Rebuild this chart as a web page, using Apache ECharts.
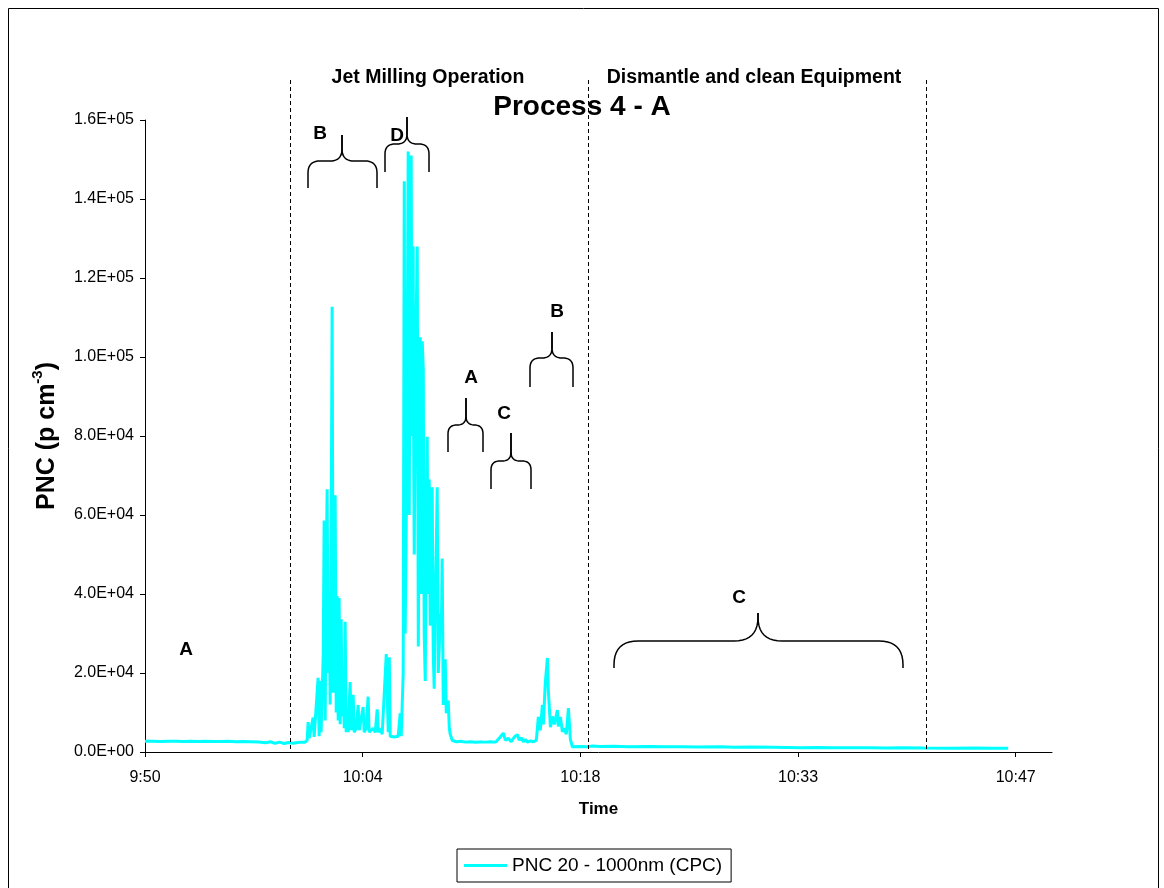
<!DOCTYPE html>
<html><head><meta charset="utf-8">
<script src="https://cdn.jsdelivr.net/npm/echarts@6/dist/echarts.min.js"></script>
<style>html,body{margin:0;padding:0;background:#fff}#c{width:1164px;height:888px}</style>
</head><body><div id="c"></div>
<script>
// x values: minutes after the axis origin (9:50:06)
const AXIS_START_MIN = 590.1;
const timeMin = [
0,0.5,1,1.5,2,2.5,3,3.5,4,4.5,5,5.5,6,6.5,7,7.5,8,8.3,8.6,8.9,9.2,9.5,9.8,10.1,10.4,
10.59,10.73,10.79,10.86,10.99,11.12,11.19,11.32,11.45,11.52,11.59,11.65,11.79,11.85,11.92,11.98,
12.05,12.12,12.18,12.25,12.32,12.38,12.45,12.51,12.58,12.65,12.71,12.78,12.84,12.91,12.98,
13.04,13.11,13.18,13.24,13.31,13.37,13.44,13.57,13.64,13.77,13.84,13.97,14.10,14.17,14.30,
14.43,14.50,14.63,14.76,14.83,14.96,15.10,15.23,15.36,15.43,15.56,15.69,15.82,15.96,16.09,
16.16,16.22,16.35,16.49,16.62,16.75,16.88,16.95,17.02,17.08,17.15,17.21,17.28,17.35,17.41,17.45,
17.48,17.55,17.61,17.65,17.68,17.74,17.78,17.81,17.88,17.94,18.01,18.08,18.14,18.21,18.24,18.27,18.34,18.41,18.44,
18.47,18.54,18.60,18.67,18.70,18.74,18.80,18.84,18.87,18.94,19.00,19.04,19.07,19.13,19.20,19.27,19.33,19.40,19.47,
19.53,19.60,19.66,19.73,19.80,19.86,19.93,20.00,20.06,20.13,20.19,20.33,20.6,20.86,21.2,21.52,
21.85,22.18,22.5,22.84,23.2,23.50,23.70,23.84,24.03,24.23,24.43,24.63,24.76,24.89,25.03,
25.16,25.29,25.49,25.69,25.89,26.02,26.15,26.29,26.35,26.48,26.62,26.68,26.82,26.95,27.08,
27.28,27.34,27.48,27.61,27.74,27.87,28.01,28.14,28.27,28.8,29.2,29.33,29.6,30.1,31,32,33.4,
34.5,35.5,36.7,38,39,40.1,41.5,43.4,44.5,45.5,46.7,48,49,50,51.5,53.3,55,56,57.1
];
const pnc = [
2700,2750,2650,2700,2720,2680,2700,2650,2700,2680,2650,2700,2620,2650,2600,2550,2350,2600,2200,2500,2150,2400,2200,2400,2500,
2500,3000,7600,3500,4000,8700,3800,3500,18800,4000,18000,5000,24600,58600,8000,45000,
66500,20000,40500,12000,60000,112700,15000,30000,65000,10000,39500,8000,39000,7000,33600,
9000,21400,6000,33000,5000,8700,5000,17700,5500,14500,5000,6000,11900,5500,5000,
11400,5000,6000,14000,5000,5500,6000,5000,10800,5000,6000,4500,4000,24800,5000,
24000,4000,3500,3800,3400,4000,9800,4000,3500,20000,144500,30000,57000,100000,152000,110000,
60000,130000,151000,95000,80000,128000,70000,50000,90000,110000,128000,26700,70000,105000,62000,40000,104000,96800,55000,
30000,18000,60000,79800,52000,40000,69000,45000,32000,45000,67000,38000,25000,16000,40000,52000,67000,20000,27000,
35000,30000,49000,11900,18000,23500,9800,12000,13000,6000,4500,2900,2600,2700,2500,2600,
2450,2550,2500,2600,2500,3800,4800,3000,3500,2600,3800,4400,3000,3600,2600,
3200,2500,2800,2600,3000,8900,5500,11900,7000,17500,23800,15700,6300,9000,7000,
10600,6500,8900,5100,6000,4500,11100,3200,1300,1400,1300,1000,1500,1400,1450,1350,1400,
1300,1350,1250,1300,1200,1250,1200,1100,1150,1050,1100,1050,1000,1050,1000,950,1000,950,950
];
const xTickValues = [0, 14.4, 28.8, 43.2, 57.6];
const phaseBoundaries = [9.6, 29.3, 51.64];
const phaseNames = ['Jet Milling Operation', 'Dismantle and clean Equipment'];
const seriesName = 'PNC 20 - 1000nm (CPC)';

const FONT = 'Liberation Sans, Arial, sans-serif';
const chart = echarts.init(document.getElementById('c'));

function fmtTime(v) {
  const tot = AXIS_START_MIN + v;
  const h = Math.floor(tot / 60), m = Math.floor(tot % 60);
  return h + ':' + String(m).padStart(2, '0');
}
function fmtExp(v) {
  if (v === 0) return '0.0E+00';
  const e = Math.floor(Math.log10(v) + 1e-9);
  const m = v / Math.pow(10, e);
  return m.toFixed(1) + 'E+' + String(e).padStart(2, '0');
}

chart.setOption({
  animation: false,
  backgroundColor: '#fff',
  title: {
    text: 'Process 4 - A', left: 'center', top: 88,
    textStyle: { fontFamily: FONT, fontSize: 28, fontWeight: 'bold', color: '#000' }
  },
  grid: { left: 145, top: 120, width: 907, height: 632, containLabel: false },
  xAxis: {
    type: 'value', min: 0, max: 60, interval: 14.4,
    name: 'Time', nameLocation: 'middle', nameGap: 49,
    nameTextStyle: { fontFamily: FONT, fontSize: 17, fontWeight: 'bold', color: '#000' },
    axisLine: { show: true, onZero: false, lineStyle: { color: '#000', width: 1 } },
    axisTick: { show: true, length: 5, lineStyle: { color: '#000' }, customValues: xTickValues },
    axisLabel: { fontFamily: FONT, fontSize: 16, color: '#000', margin: 18, formatter: fmtTime, customValues: xTickValues },
    splitLine: { show: false }
  },
  yAxis: {
    type: 'value', min: 0, max: 160000, interval: 20000,
    name: '{a|PNC (p cm}{s|-3}{a|)}', nameLocation: 'middle', nameGap: 85, nameRotate: 90,
    nameTextStyle: {
      rich: {
        a: { fontFamily: FONT, fontSize: 25, fontWeight: 'bold', color: '#000', lineHeight: 30, verticalAlign: 'bottom' },
        s: { fontFamily: FONT, fontSize: 15, fontWeight: 'bold', color: '#000', lineHeight: 30, verticalAlign: 'top' }
      }
    },
    axisLine: { show: true, lineStyle: { color: '#000', width: 1 } },
    axisTick: { show: true, length: 5, lineStyle: { color: '#000' } },
    axisLabel: { fontFamily: FONT, fontSize: 16, color: '#000', margin: 11, formatter: fmtExp },
    splitLine: { show: false }
  },
  legend: {
    left: 457, top: 849, padding: [7, 9, 7, 7],
    borderColor: '#000', borderWidth: 1, backgroundColor: '#fff',
    icon: 'rect', itemWidth: 43, itemHeight: 3, itemGap: 5,
    textStyle: { fontFamily: FONT, fontSize: 19, color: '#000' },
    data: [{ name: seriesName, itemStyle: { color: '#00FFFF' } }]
  },
  series: [{
    name: seriesName, type: 'line', showSymbol: false, symbol: 'none',
    lineStyle: { color: '#00FFFF', width: 3 }, itemStyle: { color: '#00FFFF' },
    data: timeMin.map((t, i) => [t, pnc[i]])
  }]
});

// annotations (curly braces drawn as polylines)
function quad(p0, c, p1, n) {
  const pts = [];
  for (let i = 1; i <= n; i++) {
    const s = i / n, u = 1 - s;
    pts.push([u * u * p0[0] + 2 * u * s * c[0] + s * s * p1[0], u * u * p0[1] + 2 * u * s * c[1] + s * s * p1[1]]);
  }
  return pts;
}
function halfBrace(xE, xT, yT, yM, yE, r) {
  const dir = xT > xE ? 1 : -1;
  let pts = [[xE, yE], [xE, yM + r]];
  pts = pts.concat(quad([xE, yM + r], [xE, yM], [xE + dir * r, yM], 10));
  pts.push([xT - dir * r, yM]);
  pts = pts.concat(quad([xT - dir * r, yM], [xT, yM], [xT, yM - r], 10));
  pts.push([xT, yT]);
  return { type: 'polyline', shape: { points: pts }, style: { fill: null, stroke: '#000', lineWidth: 1.5 }, z: 10 };
}
function brace(xL, xR, xT, yT, yM, yE, r) {
  return [halfBrace(xL, xT, yT, yM, yE, r), halfBrace(xR, xT, yT, yM, yE, r)];
}
function letter(txt, x, y) {
  return { type: 'text', x: x, y: y, style: { text: txt, fontFamily: FONT, fontSize: 19, fontWeight: 'bold', fill: '#000', align: 'center', verticalAlign: 'middle' }, z: 10 };
}
const px = phaseBoundaries.map(t => chart.convertToPixel({ xAxisIndex: 0 }, t));
const graphics = [
  { type: 'rect', shape: { x: 8.5, y: 8.5, width: 1150, height: 900 }, style: { fill: null, stroke: '#000', lineWidth: 1 }, z: 0 },
];
px.forEach(x => graphics.push({ type: 'line', shape: { x1: Math.round(x) + 0.5, y1: 80, x2: Math.round(x) + 0.5, y2: 752 }, style: { stroke: '#000', lineWidth: 1, lineDash: [4, 3] }, z: 5 }));
graphics.push({ type: 'text', x: 428, y: 78, style: { text: phaseNames[0], fontFamily: FONT, fontSize: 19.5, fontWeight: 'bold', fill: '#000', align: 'center', verticalAlign: 'middle' } });
graphics.push({ type: 'text', x: 754, y: 78, style: { text: phaseNames[1], fontFamily: FONT, fontSize: 19.5, fontWeight: 'bold', fill: '#000', align: 'center', verticalAlign: 'middle' } });
graphics.push(
  letter('A', 186, 650),
  letter('B', 320, 134), ...brace(308, 377, 342, 135, 161, 188, 12),
  letter('D', 397, 136), ...brace(385, 429, 407, 117, 144, 172, 10),
  letter('A', 471, 378), ...brace(448, 483, 466, 398, 425, 452, 9),
  letter('C', 504, 414), ...brace(491, 531, 511, 433, 461, 489, 9),
  letter('B', 557, 312), ...brace(530, 573, 552, 332, 358, 387, 10),
  letter('C', 739, 598), ...brace(614, 903, 758, 613, 641, 668, 24)
);
chart.setOption({ graphic: graphics });
</script></body></html>
